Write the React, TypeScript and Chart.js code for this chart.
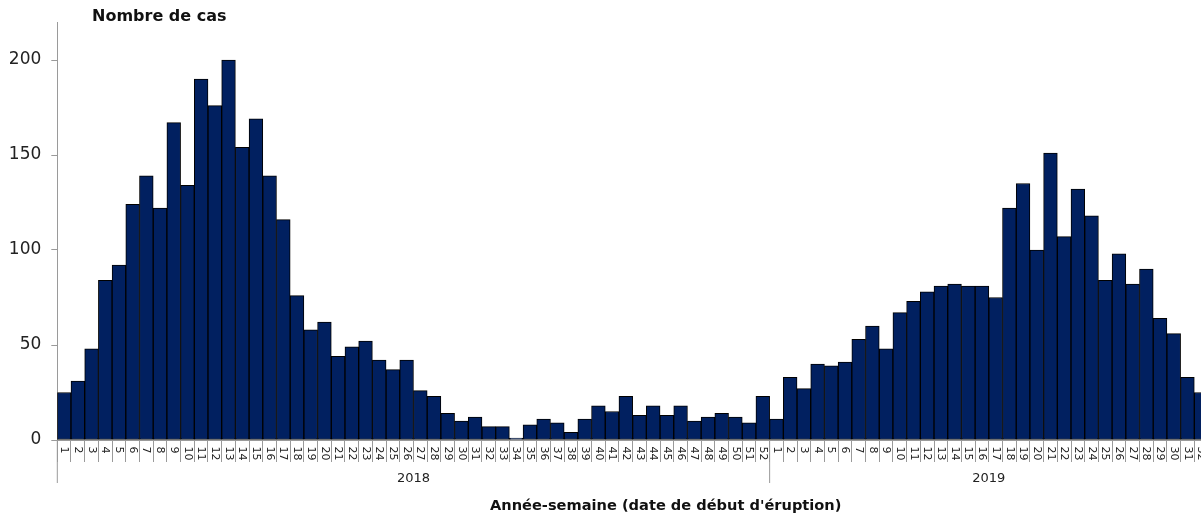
import { useEffect, useRef } from "react";
import { Chart, registerables } from "chart.js";

Chart.register(...registerables);

const weeks2018 = [
  "1", "2", "3", "4", "5", "6", "7", "8", "9", "10", "11", "12", "13", "14", "15", "16", "17", "18",
  "19", "20", "21", "22", "23", "24", "25", "26", "27", "28", "29", "30", "31", "32", "33", "34", "35",
  "36", "37", "38", "39", "40", "41", "42", "43", "44", "45", "46", "47", "48", "49", "50", "51", "52",
];
const weeks2019 = [
  "1", "2", "3", "4", "5", "6", "7", "8", "9", "10", "11", "12", "13", "14", "15", "16", "17", "18",
  "19", "20", "21", "22", "23", "24", "25", "26", "27", "28", "29", "30", "31", "32",
];
const cases2018 = [
  25, 31, 48, 84, 92, 124, 139, 122, 167, 134,
  190, 176, 200, 154, 169, 139, 116, 76, 58, 62,
  44, 49, 52, 42, 37, 42, 26, 23, 14, 10,
  12, 7, 7, 1, 8, 11, 9, 4, 11, 18,
  15, 23, 13, 18, 13, 18, 10, 12, 14, 12,
  9, 23,
];
const cases2019 = [
  11, 33, 27, 40, 39, 41, 53, 60, 48, 67,
  73, 78, 81, 82, 81, 81, 75, 122, 135, 100,
  151, 107, 132, 118, 84, 98, 82, 90, 64, 56,
  33, 25,
];
const yearLabels = ["2018", "2019"];
const yTicks = [0, 50, 100, 150, 200];
const yTitle = "Nombre de cas";
const xTitle = "Année-semaine (date de début d'éruption)";

const AXIS_GRAY = "#9a9a9a";
const FONT = "'DejaVu Sans', 'Liberation Sans', sans-serif";

const decorPlugin = {
  id: "decor",
  afterDraw(chart: any) {
    const { ctx, chartArea, scales } = chart;
    const x = scales.x;
    const labels = chart.data.labels as string[];
    const bottom = chartArea.bottom;
    const extBottom = 483;
    const sepIdx = weeks2018.length;
    const sepX = (x.getPixelForValue(sepIdx - 1) + x.getPixelForValue(sepIdx)) / 2;
    ctx.save();
    ctx.strokeStyle = AXIS_GRAY;
    ctx.lineWidth = 1;
    ctx.beginPath();
    ctx.moveTo(chartArea.left, bottom);
    ctx.lineTo(chartArea.left, extBottom);
    ctx.moveTo(sepX, bottom);
    ctx.lineTo(sepX, extBottom);
    ctx.stroke();

    // week tick labels (rotated clockwise, reading top to bottom)
    ctx.fillStyle = "#222";
    ctx.font = `11px ${FONT}`;
    ctx.textAlign = "left";
    ctx.textBaseline = "middle";
    labels.forEach((lab, i) => {
      const px = x.getPixelForValue(i);
      ctx.save();
      ctx.translate(px, bottom + 6.5);
      ctx.rotate(Math.PI / 2);
      ctx.fillText(lab, 0, 0);
      ctx.restore();
    });

    // year labels
    ctx.font = `13px ${FONT}`;
    ctx.textAlign = "center";
    ctx.textBaseline = "alphabetic";
    ctx.fillText(yearLabels[0], (chartArea.left + sepX) / 2, 482);
    ctx.fillText(yearLabels[1], (sepX + chartArea.right) / 2, 482);

    // titles
    ctx.fillStyle = "#111";
    ctx.textAlign = "left";
    ctx.font = `bold 16px ${FONT}`;
    ctx.fillText(yTitle, 92, 21);
    ctx.font = `bold 14.6px ${FONT}`;
    ctx.fillText(xTitle, 490, 510);
    ctx.restore();
  },
};

export default function App() {
  const canvasRef = useRef<HTMLCanvasElement | null>(null);

  useEffect(() => {
    if (!canvasRef.current) return;
    const labels = [...weeks2018, ...weeks2019];
    const values = [...cases2018, ...cases2019];
    const chart = new Chart(canvasRef.current, {
      type: "bar",
      data: {
        labels,
        datasets: [
          {
            data: values,
            backgroundColor: "#012060",
            borderColor: "#000000",
            borderWidth: 1,
            borderSkipped: false,
            barPercentage: 1,
            categoryPercentage: 1,
          },
        ],
      },
      options: {
        animation: false,
        responsive: true,
        maintainAspectRatio: false,
        layout: { padding: { top: 22, left: 0, right: 0, bottom: 0 } },
        plugins: {
          legend: { display: false },
          tooltip: { enabled: false },
          title: { display: false },
        },
        scales: {
          x: {
            offset: true,
            grid: {
              display: true,
              offset: true,
              drawOnChartArea: false,
              drawTicks: true,
              tickLength: 22,
              color: AXIS_GRAY,
            },
            border: { display: true, color: AXIS_GRAY },
            ticks: { display: false, autoSkip: false },
            afterFit: (s: any) => {
              s.height = 75;
            },
          },
          y: {
            min: 0,
            max: 220,
            afterBuildTicks: (s: any) => {
              s.ticks = yTicks.map((v) => ({ value: v }));
            },
            grid: {
              display: true,
              drawOnChartArea: false,
              drawTicks: true,
              tickLength: 6,
              color: AXIS_GRAY,
            },
            border: { display: true, color: AXIS_GRAY },
            ticks: {
              padding: 10,
              color: "#222",
              font: { family: FONT, size: 17 },
            },
            afterFit: (s: any) => {
              s.width = 57.3;
            },
          },
        },
      },
      plugins: [decorPlugin],
    });
    return () => chart.destroy();
  }, []);

  return (
    <div
      style={{
        position: "fixed",
        left: 0,
        top: 0,
        width: 1201,
        height: 515,
        overflow: "hidden",
        background: "#fff",
      }}
    >
      <div style={{ position: "relative", width: 1208, height: 515 }}>
        <canvas ref={canvasRef} />
      </div>
    </div>
  );
}
